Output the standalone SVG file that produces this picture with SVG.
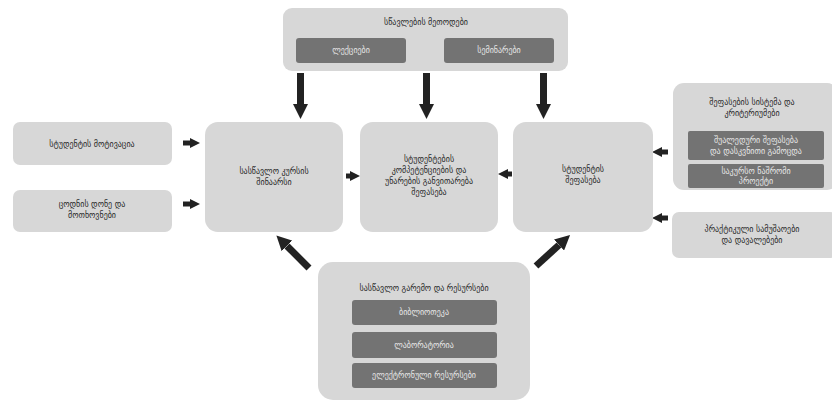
<svg xmlns="http://www.w3.org/2000/svg" width="832" height="406" viewBox="0 0 832 406">
<defs>
<style>
.lb{fill:#d7d7d7;}
.db{fill:#737373;}
.t{font-family:"DejaVu Sans","Noto Sans",sans-serif;font-size:8px;fill:#2a2a2a;text-anchor:middle;}
.tw{font-family:"DejaVu Sans","Noto Sans",sans-serif;font-size:8px;fill:#e6e6e6;text-anchor:middle;}
.thick{stroke:#222;stroke-width:7;fill:none;}
.thin{stroke:#222;stroke-width:5;fill:none;}
</style>
<marker id="hb" viewBox="0 0 10 10" refX="0" refY="5" markerWidth="15" markerHeight="15" markerUnits="userSpaceOnUse" orient="auto">
<path d="M0,0 L10,5 L0,10 Z" fill="#222"/>
</marker>
<marker id="hs" viewBox="0 0 10 10" refX="0" refY="5" markerWidth="10" markerHeight="10" markerUnits="userSpaceOnUse" orient="auto">
<path d="M0,0 L10,5 L0,10 Z" fill="#222"/>
</marker>
</defs>
<rect width="832" height="406" fill="#ffffff"/>

<g id="connectors">
<path class="thick" d="M300.5,73 L300.5,104" marker-end="url(#hb)"/>
<path class="thick" d="M426.5,73 L426.5,104" marker-end="url(#hb)"/>
<path class="thick" d="M543.5,73 L543.5,104" marker-end="url(#hb)"/>
<path class="thin" d="M183,143 L190,143" marker-end="url(#hs)"/>
<path class="thin" d="M183,204 L190,204" marker-end="url(#hs)"/>
<path class="thin" d="M346,176 L350,176" marker-end="url(#hs)"/>
<path class="thin" d="M512,174 L508,174" marker-end="url(#hs)"/>
<path class="thin" d="M668,152 L662,152" marker-end="url(#hs)"/>
<path class="thin" d="M668,218 L662,218" marker-end="url(#hs)"/>
<path class="thick" d="M309,268 L287,246" marker-end="url(#hb)"/>
<path class="thick" d="M536,266 L559,245" marker-end="url(#hb)"/>
</g>

<g id="top">
<rect class="lb" x="283" y="8" width="285" height="63" rx="9"/>
<text class="t" x="426" y="25">სწავლების მეთოდები</text>
<rect class="db" x="296" y="38" width="110" height="25" rx="3"/>
<text class="tw" x="351" y="53">ლექციები</text>
<rect class="db" x="444" y="38" width="110" height="25" rx="3"/>
<text class="tw" x="499" y="53">სემინარები</text>
</g>

<g id="left1">
<rect class="lb" x="13" y="122" width="159" height="43" rx="7"/>
<text class="t" x="92" y="147">სტუდენტის მოტივაცია</text>
</g>
<g id="left2">
<rect class="lb" x="13" y="190" width="159" height="42" rx="7"/>
<text class="t" x="92" y="207">ცოდნის დონე და</text>
<text class="t" x="92" y="218">მოთხოვნები</text>
</g>

<g id="nodeA">
<rect class="lb" x="205" y="122" width="138" height="110" rx="13"/>
<text class="t" x="274" y="174">სასწავლო კურსის</text>
<text class="t" x="274" y="185">შინაარსი</text>
</g>

<g id="nodeB">
<rect class="lb" x="360" y="122" width="138" height="110" rx="13"/>
<text class="t" x="429" y="162">სტუდენტების</text>
<text class="t" x="429" y="173">კომპეტენციების და</text>
<text class="t" x="429" y="184">უნარების განვითარება</text>
<text class="t" x="429" y="195">შეფასება</text>
</g>

<g id="nodeC">
<rect class="lb" x="513" y="122" width="140" height="110" rx="13"/>
<text class="t" x="583" y="172">სტუდენტის</text>
<text class="t" x="583" y="183">შეფასება</text>
</g>

<g id="right1">
<rect class="lb" x="673" y="83" width="165" height="107" rx="11"/>
<text class="t" x="752" y="105">შეფასების სისტემა და</text>
<text class="t" x="752" y="116">კრიტერიუმები</text>
<rect class="db" x="688" y="131" width="136" height="29" rx="2"/>
<text class="tw" x="756" y="143">შუალედური შეფასება</text>
<text class="tw" x="756" y="154">და დასკვნითი გამოცდა</text>
<rect class="db" x="688" y="164" width="136" height="24" rx="2"/>
<text class="tw" x="756" y="174">საკურსო ნაშრომი</text>
<text class="tw" x="756" y="184">პროექტი</text>
</g>

<g id="right2">
<rect class="lb" x="672" y="212" width="165" height="46" rx="7"/>
<text class="t" x="752" y="232">პრაქტიკული სამუშაოები</text>
<text class="t" x="752" y="243">და დავალებები</text>
</g>

<g id="bottom">
<rect class="lb" x="318" y="262" width="212" height="138" rx="15"/>
<text class="t" x="424" y="291">სასწავლო გარემო და რესურსები</text>
<rect class="db" x="352" y="300" width="145" height="25" rx="3"/>
<text class="tw" x="424" y="315">ბიბლიოთეკა</text>
<rect class="db" x="352" y="332" width="145" height="26" rx="3"/>
<text class="tw" x="424" y="348">ლაბორატორია</text>
<rect class="db" x="352" y="363" width="145" height="25" rx="3"/>
<text class="tw" x="424" y="378">ელექტრონული რესურსები</text>
</g>
</svg>
